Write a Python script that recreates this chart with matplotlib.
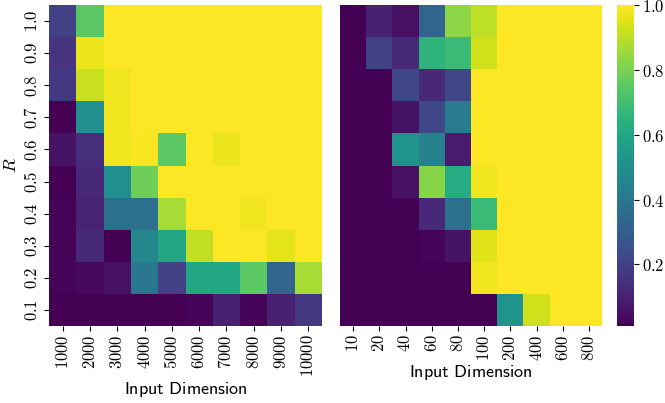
import numpy as np
import matplotlib
matplotlib.use("Agg")
import matplotlib.pyplot as plt
import seaborn as sns
from matplotlib.ticker import FuncFormatter

plt.rcParams['mathtext.fontset'] = 'cm'

r_labels = ["1.0", "0.9", "0.8", "0.7", "0.6", "0.5", "0.4", "0.3", "0.2", "0.1"]
left_x = ["1000", "2000", "3000", "4000", "5000", "6000", "7000", "8000", "9000", "10000"]
right_x = ["10", "20", "40", "60", "80", "100", "200", "400", "600", "800"]

left_vals = [
    [0.20, 0.75, 1.00, 1.00, 1.00, 1.00, 1.00, 1.00, 1.00, 1.00],
    [0.16, 0.97, 1.00, 1.00, 1.00, 1.00, 1.00, 1.00, 1.00, 1.00],
    [0.17, 0.92, 0.98, 1.00, 1.00, 1.00, 1.00, 1.00, 1.00, 1.00],
    [0.01, 0.50, 0.98, 1.00, 1.00, 1.00, 1.00, 1.00, 1.00, 1.00],
    [0.06, 0.14, 0.98, 0.99, 0.75, 1.00, 0.97, 1.00, 1.00, 1.00],
    [0.01, 0.12, 0.50, 0.78, 1.00, 1.00, 1.00, 1.00, 1.00, 1.00],
    [0.02, 0.11, 0.37, 0.37, 0.87, 1.00, 1.00, 0.98, 1.00, 1.00],
    [0.02, 0.12, 0.01, 0.47, 0.60, 0.91, 1.00, 1.00, 0.96, 1.00],
    [0.02, 0.03, 0.05, 0.40, 0.20, 0.60, 0.60, 0.75, 0.33, 0.87],
    [0.01, 0.01, 0.01, 0.01, 0.01, 0.02, 0.10, 0.02, 0.10, 0.17],
]

right_vals = [
    [0.01, 0.10, 0.05, 0.33, 0.83, 0.90, 1.00, 1.00, 1.00, 1.00],
    [0.01, 0.20, 0.12, 0.65, 0.68, 0.93, 1.00, 1.00, 1.00, 1.00],
    [0.01, 0.01, 0.22, 0.12, 0.22, 1.00, 1.00, 1.00, 1.00, 1.00],
    [0.01, 0.01, 0.06, 0.22, 0.42, 1.00, 1.00, 1.00, 1.00, 1.00],
    [0.01, 0.01, 0.52, 0.45, 0.08, 1.00, 1.00, 1.00, 1.00, 1.00],
    [0.01, 0.01, 0.05, 0.82, 0.62, 0.98, 1.00, 1.00, 1.00, 1.00],
    [0.01, 0.01, 0.01, 0.12, 0.37, 0.68, 1.00, 1.00, 1.00, 1.00],
    [0.01, 0.01, 0.01, 0.02, 0.06, 0.95, 1.00, 1.00, 1.00, 1.00],
    [0.01, 0.01, 0.01, 0.01, 0.01, 0.98, 1.00, 1.00, 1.00, 1.00],
    [0.01, 0.01, 0.01, 0.01, 0.01, 0.01, 0.52, 0.93, 1.00, 1.00],
]

L = np.array(left_vals)
Rv = np.array(right_vals)
vmin = min(L.min(), Rv.min())
vmax = max(L.max(), Rv.max())

W, H = 665, 403
fig = plt.figure(figsize=(W / 100, H / 100), dpi=100)
ax1 = fig.add_axes([49 / W, 1 - 326 / H, 273 / W, 321 / H])
ax2 = fig.add_axes([340 / W, 1 - 326 / H, 262 / W, 321 / H])
cax = fig.add_axes([617 / W, 1 - 326 / H, 17 / W, 321 / H])

tick_fs = 12
label_fs = 13

sns.heatmap(L, ax=ax1, cmap="viridis", vmin=vmin, vmax=vmax, cbar=False,
            xticklabels=[f"${s}$" for s in left_x],
            yticklabels=[f"${s}$" for s in r_labels])
sns.heatmap(Rv, ax=ax2, cmap="viridis", vmin=vmin, vmax=vmax, cbar=True, cbar_ax=cax,
            xticklabels=[f"${s}$" for s in right_x], yticklabels=False)

for ax in (ax1, ax2):
    ax.tick_params(axis='x', labelrotation=90, labelsize=tick_fs, length=3.5, pad=2.5)
    ax.set_xlabel(r"$\mathsf{Input\ Dimension}$", fontsize=label_fs, labelpad=2)
ax1.tick_params(axis='y', labelrotation=90, labelsize=tick_fs, length=3.5, pad=2.5)
for t in ax1.get_yticklabels():
    t.set_verticalalignment('center')
ax1.set_ylabel("$R$", fontsize=label_fs, labelpad=2)

cax.yaxis.set_major_formatter(FuncFormatter(lambda v, p: f"${v:.1f}$"))
cax.tick_params(labelsize=tick_fs, length=3.5, pad=2.5)

fig.savefig("out.png", dpi=100)
